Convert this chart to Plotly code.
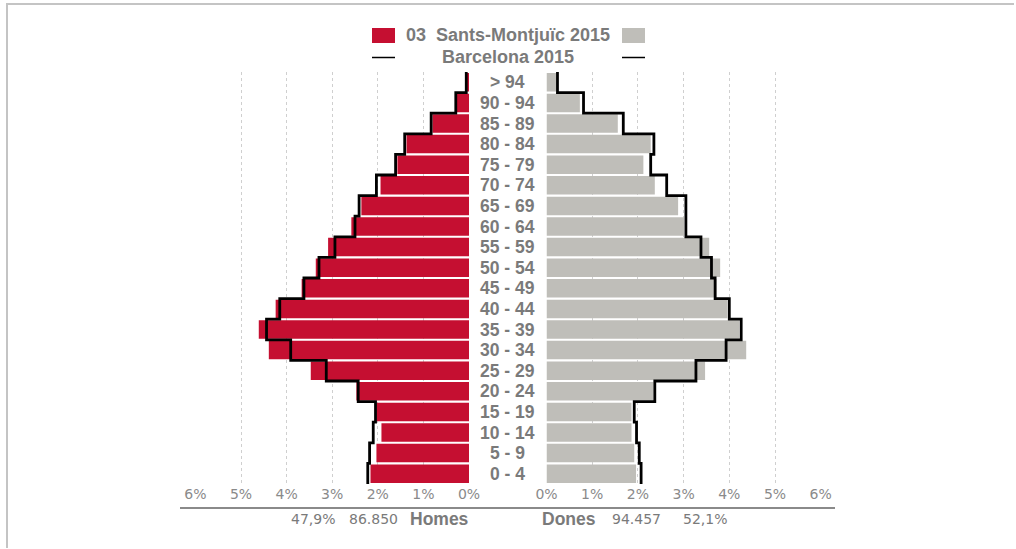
import plotly.graph_objects as go

# ---------------- data ----------------
age_groups = ["0 - 4", "5 - 9", "10 - 14", "15 - 19", "20 - 24", "25 - 29", "30 - 34",
              "35 - 39", "40 - 44", "45 - 49", "50 - 54", "55 - 59", "60 - 64", "65 - 69",
              "70 - 74", "75 - 79", "80 - 84", "85 - 89", "90 - 94", "> 94"]

# Sants-Montjuïc 2015 (% of total population)
district_men = [2.16, 2.03, 1.92, 2.03, 2.47, 3.47, 4.39, 4.61, 4.24, 3.67,
                3.36, 3.09, 2.58, 2.36, 1.94, 1.57, 1.37, 0.80, 0.28, 0.06]
district_women = [1.96, 1.92, 1.86, 1.86, 2.34, 3.47, 4.37, 4.22, 3.96, 3.72,
                  3.80, 3.56, 3.01, 2.88, 2.37, 2.12, 2.28, 1.56, 0.73, 0.21]

# Barcelona 2015 (% of total population)
city_men = [2.22, 2.18, 2.10, 2.05, 2.43, 3.13, 3.91, 4.44, 4.15, 3.62,
            3.29, 2.94, 2.50, 2.41, 2.03, 1.61, 1.41, 0.83, 0.29, 0.06]
city_women = [2.07, 2.03, 1.97, 1.92, 2.37, 3.27, 3.93, 4.26, 4.00, 3.69,
              3.61, 3.38, 3.05, 3.05, 2.63, 2.28, 2.35, 1.68, 0.81, 0.24]

tick_values = [0, 1, 2, 3, 4, 5, 6]
tick_labels = ["0%", "1%", "2%", "3%", "4%", "5%", "6%"]

legend_district = "03\u00a0\u00a0Sants-Montjuïc 2015"
legend_city = "Barcelona 2015"
men_label, men_count, men_share = "Homes", "86.850", "47,9%"
women_label, women_count, women_share = "Dones", "94.457", "52,1%"

# ---------------- style ----------------
RED = "#C50F31"
GREY = "#BFBEB9"
TXT = "#7a7a7a"
FONT = "Liberation Sans, Arial, sans-serif"
FONT_NUM = "DejaVu Sans, Verdana, sans-serif"

W, H = 1016, 549
def px(x):
    return x / W
def py(y):
    return 1 - y / H

y_idx = list(range(len(age_groups)))

def step_xy(vals):
    ys = [-0.5] + y_idx + [len(vals) - 0.5]
    xs = [vals[0]] + list(vals) + [vals[-1]]
    return xs, ys

fig = go.Figure()

fig.add_trace(go.Bar(y=y_idx, x=district_men, orientation="h", marker=dict(color=RED, line=dict(width=0)),
                     xaxis="x", yaxis="y", showlegend=False, hoverinfo="skip"))
fig.add_trace(go.Bar(y=y_idx, x=district_women, orientation="h", marker=dict(color=GREY, line=dict(width=0)),
                     xaxis="x2", yaxis="y2", showlegend=False, hoverinfo="skip"))

xs, ys = step_xy(city_men)
fig.add_trace(go.Scatter(x=xs, y=ys, mode="lines", line=dict(color="black", width=2.8, shape="vhv"),
                         xaxis="x", yaxis="y", showlegend=False, hoverinfo="skip"))
xs, ys = step_xy(city_women)
fig.add_trace(go.Scatter(x=xs, y=ys, mode="lines", line=dict(color="black", width=2.8, shape="vhv"),
                         xaxis="x2", yaxis="y2", showlegend=False, hoverinfo="skip"))

yb, yt = py(484), py(72)
axis_common = dict(tickvals=tick_values, ticktext=tick_labels, showgrid=True, gridcolor="#cfcfcf",
                   griddash="dot", gridwidth=1, zeroline=False, showline=False, ticks="",
                   automargin=False,
                   tickfont=dict(family=FONT_NUM, size=14, color="#8a8a8a"), fixedrange=True)
yaxis_common = dict(range=[-0.5, len(age_groups) - 0.5], showticklabels=False, showgrid=False,
                    zeroline=False, showline=False, ticks="", domain=[yb, yt], fixedrange=True,
                    automargin=False)

fig.update_layout(
    width=W, height=H,
    margin=dict(l=0, r=0, t=0, b=0, pad=0, autoexpand=False),
    paper_bgcolor="white", plot_bgcolor="white",
    bargap=0.1,
    xaxis=dict(range=[6, 0], domain=[px(195.4), px(469)], anchor="y", **axis_common),
    xaxis2=dict(range=[0, 6], domain=[px(546.5), px(820.7)], anchor="y2", **axis_common),
    yaxis=dict(anchor="x", **yaxis_common),
    yaxis2=dict(anchor="x2", **yaxis_common),
)

annotations = []
for i, lab in enumerate(age_groups):
    annotations.append(dict(x=px(507.5), y=i, xref="paper", yref="y", text=lab, showarrow=False,
                            font=dict(family=FONT, size=17.5, color=TXT, weight="bold"),
                            xanchor="center", yanchor="middle"))

# legend
annotations.append(dict(x=px(507.5), y=py(35), xref="paper", yref="paper", text=legend_district,
                        showarrow=False, font=dict(family=FONT, size=18, color=TXT, weight="bold"),
                        xanchor="center", yanchor="middle"))
annotations.append(dict(x=px(507.5), y=py(57), xref="paper", yref="paper", text=legend_city,
                        showarrow=False, font=dict(family=FONT, size=18, color=TXT, weight="bold"),
                        xanchor="center", yanchor="middle"))

# bottom summary
def bottom(x, text, bold, size, family):
    annotations.append(dict(x=px(x), y=py(519), xref="paper", yref="paper", text=text, showarrow=False,
                            font=dict(family=family, size=size, color=TXT, weight="bold" if bold else "normal"),
                            xanchor="center", yanchor="middle"))
bottom(313, men_share, False, 14, FONT_NUM)
bottom(373, men_count, False, 14, FONT_NUM)
bottom(439, men_label, True, 17.5, FONT)
bottom(569, women_label, True, 17.5, FONT)
bottom(636, women_count, False, 14, FONT_NUM)
bottom(705, women_share, False, 14, FONT_NUM)

shapes = [
    # legend swatches
    dict(type="rect", xref="paper", yref="paper", x0=px(372), x1=px(395), y0=py(43), y1=py(28),
         fillcolor=RED, line=dict(width=0)),
    dict(type="rect", xref="paper", yref="paper", x0=px(622), x1=px(645), y0=py(43), y1=py(28),
         fillcolor=GREY, line=dict(width=0)),
    dict(type="line", xref="paper", yref="paper", x0=px(372), x1=px(395), y0=py(57.5), y1=py(57.5),
         line=dict(color="black", width=1.5)),
    dict(type="line", xref="paper", yref="paper", x0=px(622), x1=px(645), y0=py(57.5), y1=py(57.5),
         line=dict(color="black", width=1.5)),
    # bottom rule
    dict(type="line", xref="paper", yref="paper", x0=px(180), x1=px(835), y0=py(508), y1=py(508),
         line=dict(color="#8a8a8a", width=2)),
    # outer frame (left and top edges only)
    dict(type="line", xref="paper", yref="paper", x0=px(7), x1=px(7), y0=py(548), y1=py(3),
         line=dict(color="#c4c4c4", width=2)),
    dict(type="line", xref="paper", yref="paper", x0=px(6), x1=px(1014), y0=py(4), y1=py(4),
         line=dict(color="#c4c4c4", width=2)),
]

fig.update_layout(annotations=annotations, shapes=shapes)

fig.write_html("out.html", config={"displayModeBar": False},
               post_script="document.body.style.margin='0';document.body.style.overflow='hidden';")
